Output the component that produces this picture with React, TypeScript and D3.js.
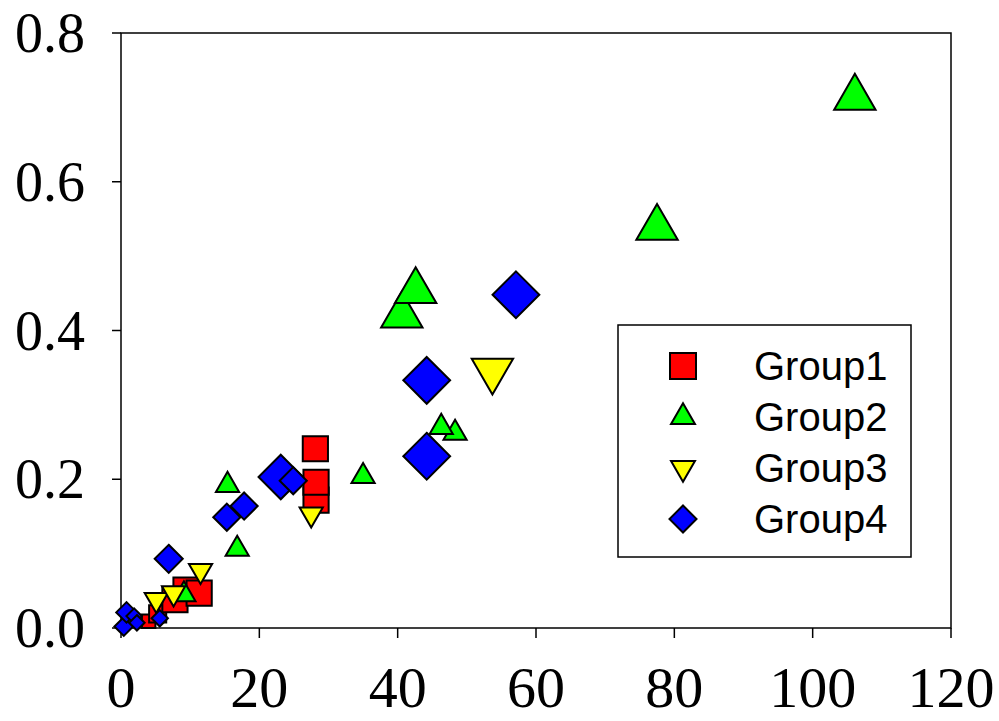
import React from 'react';
import * as d3 from 'd3';

const W = 999;
const H = 721;

// Axis ticks
const xTicks = [0, 20, 40, 60, 80, 100, 120];
const yTicks = [0, 0.2, 0.4, 0.6, 0.8];

const groupNames = ['Group1', 'Group2', 'Group3', 'Group4'];

// Group1 (squares): x, y and relative magnitude z
const g1X = [4.0, 5.3, 9.4, 7.8, 11.3, 28.2, 28.2, 28.1];
const g1Y = [0.009, 0.019, 0.051, 0.038, 0.047, 0.172, 0.196, 0.241];
const g1Z = [0.3, 0.38, 0.56, 0.56, 0.56, 0.56, 0.56, 0.56];

// Group2 (up triangles)
const g2X = [9.1, 16.8, 15.4, 35.0, 48.3, 46.3, 40.6, 42.6, 77.5, 106.1];
const g2Y = [0.045, 0.106, 0.192, 0.204, 0.262, 0.270, 0.420, 0.453, 0.538, 0.713];
const g2Z = [0.56, 0.56, 0.56, 0.56, 0.56, 0.56, 1, 1, 1, 1];

// Group3 (down triangles)
const g3X = [5.1, 7.6, 11.5, 27.5, 53.7];
const g3Y = [0.038, 0.047, 0.077, 0.153, 0.346];
const g3Z = [0.56, 0.56, 0.56, 0.56, 1];

// Group4 (diamonds)
const g4X = [0.4, 0.8, 1.9, 2.3, 5.6, 6.9, 15.3, 17.8, 23.1, 24.9, 44.2, 44.2, 57.1];
const g4Y = [0.002, 0.021, 0.016, 0.007, 0.013, 0.093, 0.149, 0.164, 0.203, 0.198, 0.231, 0.333, 0.448];
const g4Z = [0.4, 0.44, 0.33, 0.33, 0.35, 0.6, 0.58, 0.58, 0.95, 0.58, 1, 1, 1];

const colors = ['#ff0000', '#00ff00', '#ffff00', '#0000ff'];

// Custom symbol types; "size" is the nominal symbol size in px
const squareType = {
  draw(ctx: any, s: number) {
    ctx.rect(-s / 2, -s / 2, s, s);
  },
};
const triUpType = {
  draw(ctx: any, s: number) {
    const w = 0.92 * s;
    const h = w * Math.sqrt(3) / 2;
    ctx.moveTo(0, -2 * h / 3);
    ctx.lineTo(w / 2, h / 3);
    ctx.lineTo(-w / 2, h / 3);
    ctx.closePath();
  },
};
const triDownType = {
  draw(ctx: any, s: number) {
    const w = 0.92 * s;
    const h = w * Math.sqrt(3) / 2;
    ctx.moveTo(0, 2 * h / 3);
    ctx.lineTo(w / 2, -h / 3);
    ctx.lineTo(-w / 2, -h / 3);
    ctx.closePath();
  },
};
const diamondType = {
  draw(ctx: any, s: number) {
    const r = 0.52 * s;
    ctx.moveTo(0, -r);
    ctx.lineTo(r, 0);
    ctx.lineTo(0, r);
    ctx.lineTo(-r, 0);
    ctx.closePath();
  },
};
const types = [squareType, triUpType, triDownType, diamondType];

const groups = [
  { xs: g1X, ys: g1Y, zs: g1Z },
  { xs: g2X, ys: g2Y, zs: g2Z },
  { xs: g3X, ys: g3Y, zs: g3Z },
  { xs: g4X, ys: g4Y, zs: g4Z },
];

const plot = { left: 121, right: 951, top: 33, bottom: 628 };

export default function App() {
  const x = d3.scaleLinear().domain([0, 120]).range([plot.left, plot.right]);
  const y = d3.scaleLinear().domain([0, 0.8]).range([plot.bottom, plot.top]);
  const size = d3.scaleLinear().domain([0, 1]).range([0, 45]);
  const fx = d3.format('d');
  const fy = d3.format('.1f');

  const serif = '"Liberation Serif", "Times New Roman", serif';
  const sans = '"Liberation Sans", Arial, sans-serif';

  const legend = { x: 618, y: 325, w: 293, h: 232 };
  const legendRowY = [366, 417, 468, 519];

  return (
    <svg
      width={W}
      height={H}
      style={{ position: 'absolute', left: 0, top: 0, background: '#fff' }}
    >
      <rect x={0} y={0} width={W} height={H} fill="#fff" />

      {/* frame */}
      <rect
        x={plot.left}
        y={plot.top}
        width={plot.right - plot.left}
        height={plot.bottom - plot.top}
        fill="none"
        stroke="#000"
        strokeWidth={1.5}
      />

      {/* y axis ticks and labels */}
      {yTicks.map((t) => (
        <g key={'y' + t}>
          <line x1={plot.left - 9} x2={plot.left} y1={y(t)} y2={y(t)} stroke="#000" strokeWidth={1.5} />
          <text
            x={85}
            y={y(t) + 19}
            textAnchor="end"
            fontFamily={serif}
            fontSize={56}
            fill="#000"
          >
            {fy(t)}
          </text>
        </g>
      ))}

      {/* x axis ticks and labels */}
      {xTicks.map((t) => (
        <g key={'x' + t}>
          <line x1={x(t)} x2={x(t)} y1={plot.bottom} y2={plot.bottom + 10} stroke="#000" strokeWidth={1.5} />
          <text
            x={x(t)}
            y={707}
            textAnchor="middle"
            fontFamily={serif}
            fontSize={58}
            fill="#000"
          >
            {fx(t)}
          </text>
        </g>
      ))}

      {/* data points */}
      {groups.map((g, gi) => (
        <g key={'g' + gi}>
          {g.xs.map((xv, i) => (
            <path
              key={i}
              d={d3.symbol().type(types[gi] as any).size(size(g.zs[i]))() || ''}
              transform={`translate(${x(xv)},${y(g.ys[i])})`}
              fill={colors[gi]}
              stroke="#000"
              strokeWidth={2}
              strokeLinejoin="miter"
            />
          ))}
        </g>
      ))}

      {/* legend */}
      <rect
        x={legend.x}
        y={legend.y}
        width={legend.w}
        height={legend.h}
        fill="#fff"
        stroke="#000"
        strokeWidth={1.5}
      />
      {groupNames.map((name, i) => (
        <g key={name}>
          <path
            d={d3.symbol().type(types[i] as any).size(26)() || ''}
            transform={`translate(683,${legendRowY[i]})`}
            fill={colors[i]}
            stroke="#000"
            strokeWidth={2}
          />
          <text x={754} y={legendRowY[i] + 14} fontFamily={sans} fontSize={40} fill="#000">
            {name}
          </text>
        </g>
      ))}
    </svg>
  );
}
